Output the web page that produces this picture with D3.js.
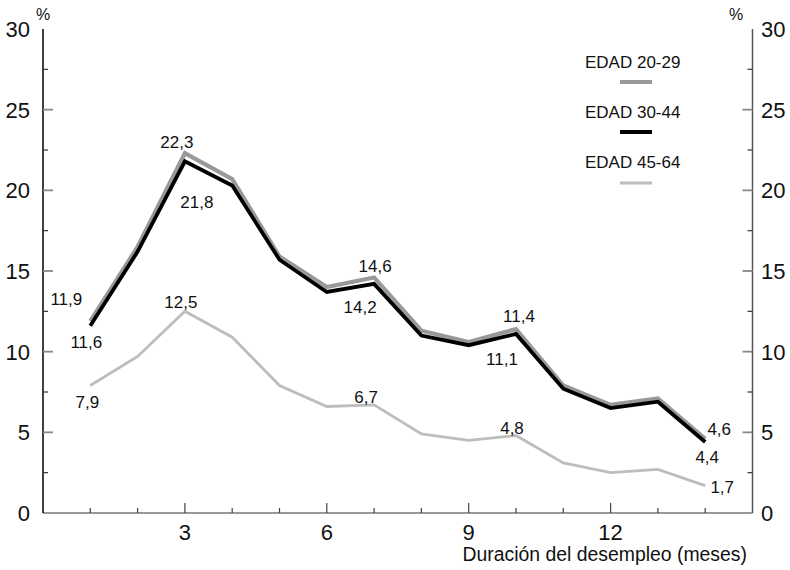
<!DOCTYPE html>
<html>
<head>
<meta charset="utf-8">
<script src="https://cdn.jsdelivr.net/npm/d3@7"></script>
<style>
  html, body { margin: 0; padding: 0; background: #fff; }
  svg { display: block; font-family: "Liberation Sans", Arial, Helvetica, sans-serif; }
</style>
</head>
<body>
<svg id="chart" width="790" height="570"></svg>
<script>
// ---- data ----
const months = [1, 2, 3, 4, 5, 6, 7, 8, 9, 10, 11, 12, 13, 14];
const edad2029 = [11.9, 16.5, 22.3, 20.7, 15.9, 14.0, 14.6, 11.3, 10.6, 11.4, 7.9, 6.7, 7.1, 4.6];
const edad3044 = [11.6, 16.2, 21.8, 20.3, 15.7, 13.7, 14.2, 11.0, 10.4, 11.1, 7.7, 6.5, 6.9, 4.4];
const edad4564 = [7.9, 9.7, 12.5, 10.9, 7.9, 6.6, 6.7, 4.9, 4.5, 4.8, 3.1, 2.5, 2.7, 1.7];
const seriesNames = ["EDAD 20-29", "EDAD 30-44", "EDAD 45-64"];
const yTickValues = [0, 5, 10, 15, 20, 25, 30];
const xTickLabels = [3, 6, 9, 12];
const xAxisTitle = "Duración del desempleo (meses)";
const unitLabel = "%";
// labelled points: series index, month index
const labelled = [
  [0, 0], [1, 0], [2, 0],
  [0, 2], [1, 2], [2, 2],
  [0, 6], [1, 6], [2, 6],
  [0, 9], [1, 9], [2, 9],
  [0, 13], [1, 13], [2, 13]
];

// ---- styles / layout ----
const seriesData = [edad2029, edad3044, edad4564];
const colors = ["#999999", "#000000", "#bdbdbd"];
const widths = [4.2, 3.8, 2.8];
// pixel offsets of value labels relative to their point
const labelOffsets = {
  "0-0": [-24, -16], "1-0": [-4, 22], "2-0": [-3, 22],
  "0-2": [-8, -5], "1-2": [12, 47], "2-2": [-4, -3],
  "0-6": [1, -5], "1-6": [-14, 29], "2-6": [-8, -2],
  "0-9": [3, -7], "1-9": [-14, 31], "2-9": [-4, -2],
  "0-13": [14, -4], "1-13": [2, 21], "2-13": [17, 7]
};

const svg = d3.select("#chart");
const x = d3.scaleLinear().domain([0, 15]).range([43, 752.5]);
const y = d3.scaleLinear().domain([0, 30]).range([513, 29]);
const fmt = v => String(v).replace(".", ",");

// ---- axes ----
// bottom axis
const bottom = svg.append("g").attr("transform", `translate(0,${y(0)})`);
bottom.append("line").attr("x1", x(0)).attr("x2", x(15)).attr("stroke", "#777").attr("stroke-width", 1.5);
bottom.selectAll("line.t").data(d3.range(1, 15)).join("line").attr("class", "t")
  .attr("x1", d => x(d)).attr("x2", d => x(d))
  .attr("y1", 0).attr("y2", d => d % 3 === 0 ? -10 : -5)
  .attr("stroke", "#444").attr("stroke-width", 1.2);
bottom.selectAll("text").data(xTickLabels).join("text")
  .attr("x", d => x(d)).attr("y", 26.5)
  .attr("text-anchor", "middle").attr("font-size", 22).attr("fill", "#111")
  .text(d => d);
svg.append("text").attr("x", 747).attr("y", 561).attr("text-anchor", "end")
  .attr("font-size", 19.4).attr("fill", "#111").text(xAxisTitle);

// left axis
const left = svg.append("g");
left.append("line").attr("x1", x(0)).attr("x2", x(0)).attr("y1", y(0)).attr("y2", y(30))
  .attr("stroke", "#000").attr("stroke-width", 1.5);
const minor = d3.range(2.5, 30, 5);
left.selectAll("line.maj").data(yTickValues.slice(1, 6)).join("line").attr("class", "maj")
  .attr("x1", x(0)).attr("x2", x(0) + 10).attr("y1", d => y(d)).attr("y2", d => y(d))
  .attr("stroke", "#888").attr("stroke-width", 1.8);
left.selectAll("line.min").data(minor).join("line").attr("class", "min")
  .attr("x1", x(0)).attr("x2", x(0) + 5).attr("y1", d => y(d)).attr("y2", d => y(d))
  .attr("stroke", "#333").attr("stroke-width", 1.2);
left.selectAll("text").data(yTickValues).join("text")
  .attr("x", 30).attr("y", d => y(d)).attr("dy", "0.36em")
  .attr("text-anchor", "end").attr("font-size", 22).attr("fill", "#111").text(d => d);
svg.append("text").attr("x", x(0)).attr("y", 20).attr("text-anchor", "middle")
  .attr("font-size", 16).attr("fill", "#111").text(unitLabel);

// right axis
const right = svg.append("g");
right.append("line").attr("x1", x(15)).attr("x2", x(15)).attr("y1", y(0)).attr("y2", y(30))
  .attr("stroke", "#555").attr("stroke-width", 1.5);
right.selectAll("line.maj").data(yTickValues.slice(1, 6)).join("line").attr("class", "maj")
  .attr("x1", x(15)).attr("x2", x(15) - 10).attr("y1", d => y(d)).attr("y2", d => y(d))
  .attr("stroke", "#888").attr("stroke-width", 1.8);
right.selectAll("line.min").data(minor).join("line").attr("class", "min")
  .attr("x1", x(15)).attr("x2", x(15) - 5).attr("y1", d => y(d)).attr("y2", d => y(d))
  .attr("stroke", "#333").attr("stroke-width", 1.2);
right.selectAll("text").data(yTickValues).join("text")
  .attr("x", 761).attr("y", d => y(d)).attr("dy", "0.36em")
  .attr("text-anchor", "start").attr("font-size", 22).attr("fill", "#111").text(d => d);
svg.append("text").attr("x", 736).attr("y", 20).attr("text-anchor", "middle")
  .attr("font-size", 16).attr("fill", "#111").text(unitLabel);

// ---- lines ----
const line = d3.line().x((d, i) => x(months[i])).y(d => y(d));
[2, 0, 1].forEach(s => {
  svg.append("path").datum(seriesData[s])
    .attr("d", line).attr("fill", "none")
    .attr("stroke", colors[s]).attr("stroke-width", widths[s])
    .attr("stroke-linejoin", "miter").attr("stroke-linecap", "butt");
});

// ---- value labels ----
svg.append("g").selectAll("text").data(labelled).join("text")
  .attr("x", d => x(months[d[1]]) + labelOffsets[d[0] + "-" + d[1]][0])
  .attr("y", d => y(seriesData[d[0]][d[1]]) + labelOffsets[d[0] + "-" + d[1]][1])
  .attr("text-anchor", "middle").attr("font-size", 17).attr("fill", "#111")
  .text(d => fmt(seriesData[d[0]][d[1]]));

// ---- legend ----
const legendY = [68, 118, 168];
const legendLineY = [82, 132, 183];
const lg = svg.append("g");
seriesNames.forEach((name, i) => {
  lg.append("text").attr("x", 585).attr("y", legendY[i]).attr("font-size", 17)
    .attr("fill", "#111").text(name);
  lg.append("line").attr("x1", 620).attr("x2", 652)
    .attr("y1", legendLineY[i]).attr("y2", legendLineY[i])
    .attr("stroke", colors[i]).attr("stroke-width", i === 2 ? 3 : 4);
});
</script>
</body>
</html>
